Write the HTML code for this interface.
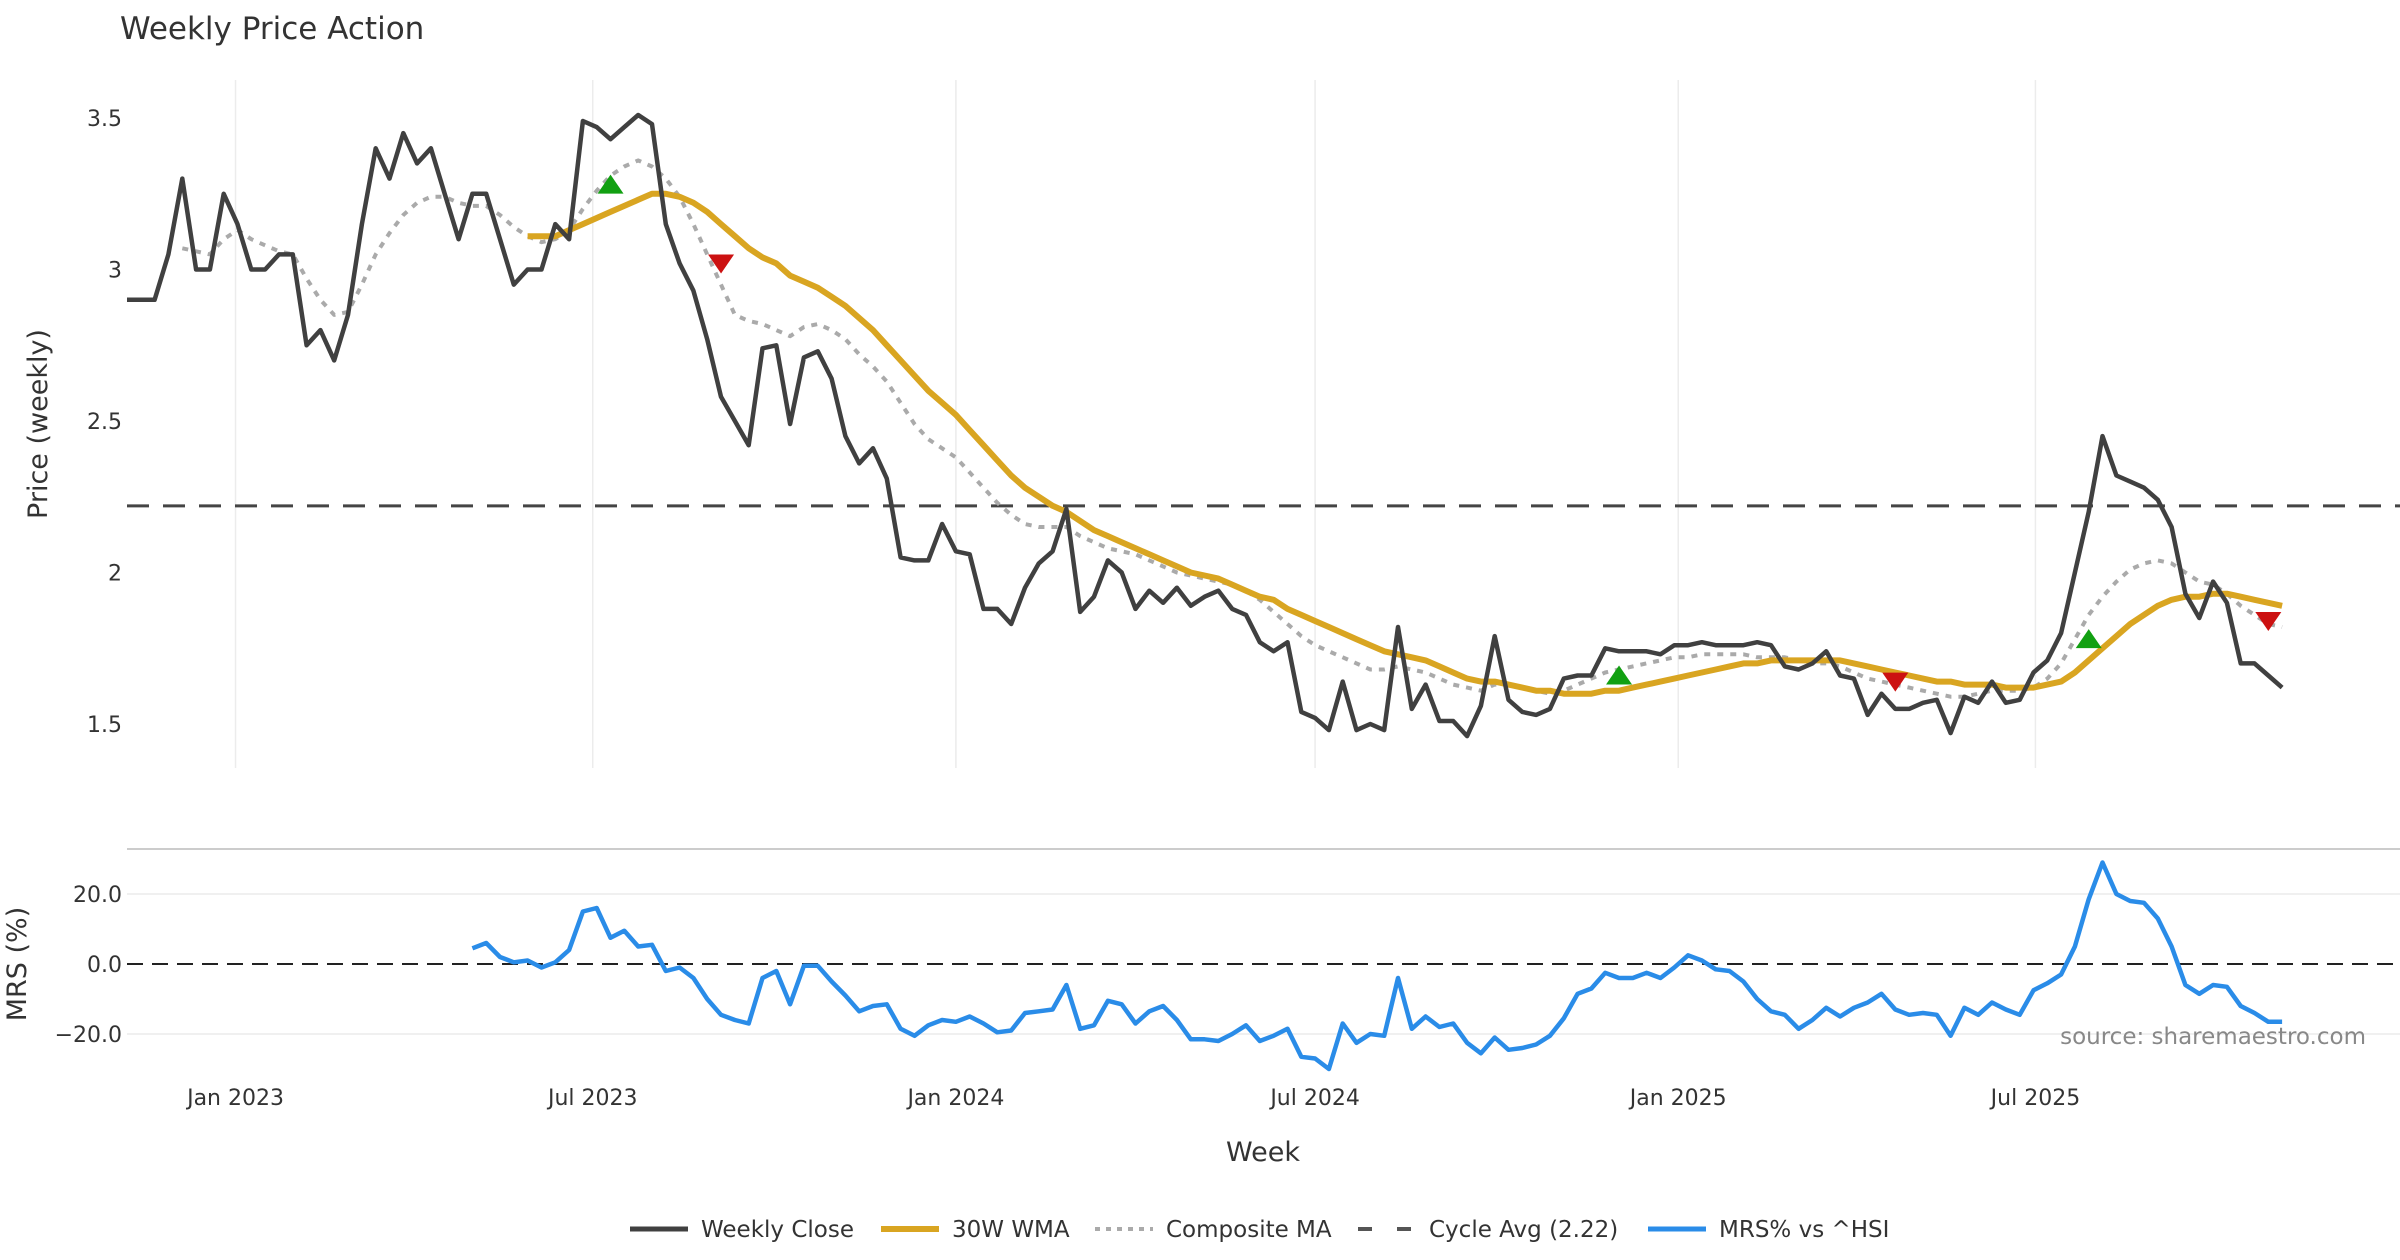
<!DOCTYPE html>
<html><head><meta charset="utf-8"><style>
body{margin:0;background:#fff;}
svg{display:block;font-family:"DejaVu Sans","Liberation Sans",sans-serif;}
</style></head><body>
<svg id="chart" width="2400" height="1260" viewBox="0 0 2400 1260">
<text x="120" y="39" font-size="31" fill="#333">Weekly Price Action</text>
<g id="grid"></g>
<g id="price"></g>
<g id="mrs"></g>
<g id="axes"></g>
<text x="47" y="424" font-size="27" fill="#333" text-anchor="middle" transform="rotate(-90 47 424)">Price (weekly)</text>
<text x="26" y="964" font-size="27" fill="#333" text-anchor="middle" transform="rotate(-90 26 964)">MRS (%)</text>
<text x="1263" y="1161" font-size="27" fill="#333" text-anchor="middle">Week</text>
<text x="2366" y="1044" font-size="23" fill="#888" text-anchor="end">source: sharemaestro.com</text>
<g id="legend"></g>
</svg>
<script>
const closeVals=[2.90,2.90,2.90,3.05,3.30,3.00,3.00,3.25,3.15,3.00,3.00,3.05,3.05,2.75,2.80,2.70,2.85,3.15,3.40,3.30,3.45,3.35,3.40,3.25,3.10,3.25,3.25,3.10,2.95,3.00,3.00,3.15,3.10,3.49,3.47,3.43,3.47,3.51,3.48,3.15,3.02,2.93,2.77,2.58,2.50,2.42,2.74,2.75,2.49,2.71,2.73,2.64,2.45,2.36,2.41,2.31,2.05,2.04,2.04,2.16,2.07,2.06,1.88,1.88,1.83,1.95,2.03,2.07,2.21,1.87,1.92,2.04,2.00,1.88,1.94,1.90,1.95,1.89,1.92,1.94,1.88,1.86,1.77,1.74,1.77,1.54,1.52,1.48,1.64,1.48,1.50,1.48,1.82,1.55,1.63,1.51,1.51,1.46,1.56,1.79,1.58,1.54,1.53,1.55,1.65,1.66,1.66,1.75,1.74,1.74,1.74,1.73,1.76,1.76,1.77,1.76,1.76,1.76,1.77,1.76,1.69,1.68,1.70,1.74,1.66,1.65,1.53,1.60,1.55,1.55,1.57,1.58,1.47,1.59,1.57,1.64,1.57,1.58,1.67,1.71,1.80,2.00,2.20,2.45,2.32,2.30,2.28,2.24,2.15,1.93,1.85,1.97,1.90,1.70,1.70,1.66,1.62];
const wmaStart=29;
const wmaVals=[3.11,3.11,3.11,3.13,3.15,3.17,3.19,3.21,3.23,3.25,3.25,3.24,3.22,3.19,3.15,3.11,3.07,3.04,3.02,2.98,2.96,2.94,2.91,2.88,2.84,2.80,2.75,2.70,2.65,2.60,2.56,2.52,2.47,2.42,2.37,2.32,2.28,2.25,2.22,2.20,2.17,2.14,2.12,2.10,2.08,2.06,2.04,2.02,2.00,1.99,1.98,1.96,1.94,1.92,1.91,1.88,1.86,1.84,1.82,1.80,1.78,1.76,1.74,1.73,1.72,1.71,1.69,1.67,1.65,1.64,1.64,1.63,1.62,1.61,1.61,1.60,1.60,1.60,1.61,1.61,1.62,1.63,1.64,1.65,1.66,1.67,1.68,1.69,1.70,1.70,1.71,1.71,1.71,1.71,1.71,1.71,1.70,1.69,1.68,1.67,1.66,1.65,1.64,1.64,1.63,1.63,1.63,1.62,1.62,1.62,1.63,1.64,1.67,1.71,1.75,1.79,1.83,1.86,1.89,1.91,1.92,1.92,1.93,1.93,1.92,1.91,1.90,1.89];
const compStart=4;
const compVals=[3.07,3.06,3.05,3.10,3.13,3.10,3.08,3.06,3.05,2.97,2.90,2.85,2.86,2.95,3.05,3.12,3.18,3.22,3.24,3.24,3.22,3.21,3.21,3.18,3.14,3.11,3.09,3.10,3.13,3.20,3.26,3.31,3.34,3.36,3.34,3.30,3.24,3.15,3.05,2.95,2.85,2.83,2.82,2.80,2.78,2.81,2.82,2.80,2.77,2.72,2.68,2.63,2.56,2.49,2.44,2.41,2.38,2.33,2.28,2.23,2.19,2.16,2.15,2.15,2.15,2.12,2.10,2.08,2.07,2.06,2.04,2.02,2.00,1.99,1.98,1.97,1.96,1.94,1.91,1.87,1.83,1.79,1.76,1.74,1.72,1.70,1.68,1.68,1.69,1.68,1.67,1.65,1.63,1.62,1.61,1.63,1.63,1.62,1.61,1.60,1.61,1.63,1.65,1.67,1.68,1.69,1.70,1.71,1.72,1.72,1.73,1.73,1.73,1.73,1.72,1.72,1.72,1.71,1.70,1.70,1.69,1.67,1.65,1.64,1.63,1.62,1.61,1.60,1.59,1.59,1.60,1.61,1.61,1.61,1.62,1.65,1.70,1.78,1.86,1.92,1.97,2.01,2.03,2.04,2.03,2.00,1.97,1.96,1.93,1.89,1.86,1.83,1.82];
const mrsStart=25;
const mrsVals=[4.5,6,2,0.5,1,-1,0.5,4,15,16,7.5,9.5,5,5.5,-2,-1,-4,-10,-14.5,-16,-17,-4,-2,-11.5,-0.5,-0.5,-5,-9,-13.5,-12,-11.5,-18.5,-20.5,-17.5,-16,-16.5,-15,-17,-19.5,-19,-14,-13.5,-13,-6,-18.5,-17.5,-10.5,-11.5,-17,-13.5,-12,-16,-21.5,-21.5,-22,-20,-17.5,-22,-20.5,-18.5,-26.5,-27,-30,-17,-22.5,-20,-20.5,-4,-18.5,-15,-18,-17,-22.5,-25.5,-21,-24.5,-24,-23,-20.5,-15.5,-8.5,-7,-2.5,-4,-4,-2.5,-4,-1,2.5,1,-1.5,-2,-5,-10,-13.5,-14.5,-18.5,-16,-12.5,-15,-12.5,-11,-8.5,-13,-14.5,-14,-14.5,-20.5,-12.5,-14.5,-11,-13,-14.5,-7.5,-5.5,-3,5,18.5,29,20,18,17.5,13,5,-6,-8.5,-6,-6.5,-12,-14,-16.5,-16.5];
const buyIdx=[35,108,142];
const buyVals=[3.28,1.66,1.78];
const sellIdx=[43,128,155];
const sellVals=[3.02,1.64,1.84];
const cycleAvg=2.22;
const priceTicks=[1.5,2,2.5,3,3.5];
const priceTickLabels=["1.5","2","2.5","3","3.5"];
const mrsTicks=[-20,0,20];
const mrsTickLabels=["\u221220.0","0.0","20.0"];
const dateTicks=["2023-01-01","2023-07-01","2024-01-01","2024-07-01","2025-01-01","2025-07-01"];
const dateTickLabels=["Jan 2023","Jul 2023","Jan 2024","Jul 2024","Jan 2025","Jul 2025"];
const startDate="2022-11-07";

const NS="http://www.w3.org/2000/svg";
const X0=127, STEP=13.815;
const xIdx=i=>X0+i*STEP;
const yP=v=>118+(3.5-v)*303;
const yM=v=>964-v*3.5;
const xDate=d=>xIdx((new Date(d)-new Date(startDate))/(7*864e5));
function mk(tag,attrs,parent){const e=document.createElementNS(NS,tag);for(const k in attrs)e.setAttribute(k,attrs[k]);parent.appendChild(e);return e;}
const grid=document.getElementById('grid'),price=document.getElementById('price'),mrs=document.getElementById('mrs'),axes=document.getElementById('axes'),legend=document.getElementById('legend');

dateTicks.forEach((d,i)=>{
 const x=xDate(d);
 const g=mk('line',{x1:x,x2:x,y1:80,y2:768,stroke:'#ececec','stroke-width':1.5},grid);
 
 
 const t=mk('text',{x:x,y:1105,'font-size':22,fill:'#333','text-anchor':'middle'},axes);
 t.textContent=dateTickLabels[i];
 
 
});
priceTicks.forEach((v,i)=>{
 const t=mk('text',{x:122,y:yP(v)+8,'font-size':22,fill:'#333','text-anchor':'end'},axes);
 t.textContent=priceTickLabels[i];
 
 
});
mrsTicks.forEach((v,i)=>{
 if(v!==0){const l=mk('line',{x1:127,x2:2400,y1:yM(v),y2:yM(v),stroke:'#ececec','stroke-width':1.5},grid);
 
 }
 const t=mk('text',{x:122,y:yM(v)+8,'font-size':22,fill:'#333','text-anchor':'end'},axes);
 t.textContent=mrsTickLabels[i];
 
 
});
const sep=mk('line',{x1:127,x2:2400,y1:849,y2:849,stroke:'#ccc','stroke-width':2},grid);



function path(vals,start,yf,attrs,parent,name){
 const d=vals.map((v,i)=>(i?'L':'M')+xIdx(start+i).toFixed(1)+' '+yf(v).toFixed(1)).join(' ');
 const p=mk('path',Object.assign({d:d,fill:'none','stroke-linejoin':'round'},attrs),parent);
 
 
}
const ca=mk('line',{x1:127,x2:2400,y1:yP(cycleAvg),y2:yP(cycleAvg),stroke:'#444','stroke-width':3,'stroke-dasharray':'22 14'},price);


path(compVals,compStart,yP,{stroke:'#aaa','stroke-width':4,'stroke-dasharray':'6 7'},price,'composite-ma-line');
path(wmaVals,wmaStart,yP,{stroke:'#d9a521','stroke-width':6},price,'wma-30w-line');
path(closeVals,0,yP,{stroke:'#404040','stroke-width':4.5},price,'weekly-close-line');
buyIdx.forEach((idx,i)=>{
 const x=xIdx(idx),y=yP(buyVals[i]);
 const m=mk('polygon',{points:`${x-13},${y+9} ${x+13},${y+9} ${x},${y-10}`,fill:'#12a012'},price);
 
 
});
sellIdx.forEach((idx,i)=>{
 const x=xIdx(idx),y=yP(sellVals[i]);
 const m=mk('polygon',{points:`${x-13},${y-9} ${x+13},${y-9} ${x},${y+10}`,fill:'#cc1111'},price);
 
 
});
const z=mk('line',{x1:127,x2:2400,y1:yM(0),y2:yM(0),stroke:'#222','stroke-width':2,'stroke-dasharray':'16 9'},mrs);


path(mrsVals,mrsStart,yM,{stroke:'#2a8ce8','stroke-width':4.5},mrs,'mrs-line');

const items=[["Weekly Close","#404040","",5,630],["30W WMA","#d9a521","",6,881],["Composite MA","#aaa","5 6",4,1095],["Cycle Avg (2.22)","#555","14 25",4,1358],["MRS% vs ^HSI","#2a8ce8","",5,1648]];
items.forEach(it=>{
 const lx=it[4];
 const g=mk('g',{},legend);
 
 
 mk('line',{x1:lx,x2:lx+58,y1:1229,y2:1229,stroke:it[1],'stroke-width':it[3],'stroke-dasharray':it[2]},g);
 const t=mk('text',{x:lx+71,y:1237,'font-size':23,fill:'#333'},g);
 t.textContent=it[0];
});
</script>
</body></html>
